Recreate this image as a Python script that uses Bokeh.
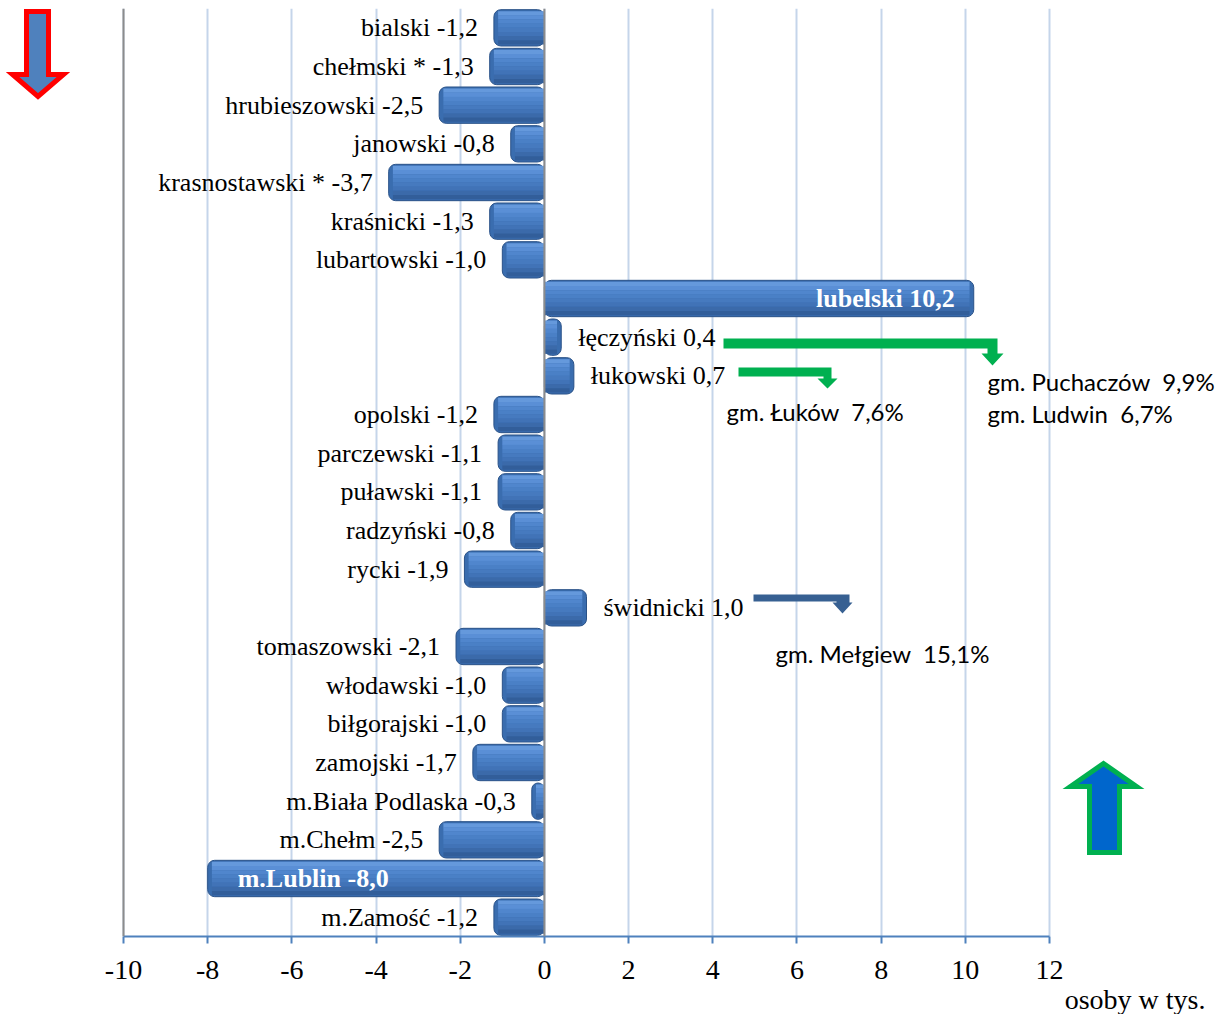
from bokeh.plotting import figure
from bokeh.models import Range1d, FixedTicker, Span, Label, PolyAnnotation, ColumnDataSource, Title
from bokeh.core.properties import value
from bokeh.embed import file_html
from bokeh.resources import INLINE

# ---------------- data ----------------
districts = ["bialski", "chełmski *", "hrubieszowski", "janowski", "krasnostawski *",
             "kraśnicki", "lubartowski", "lubelski", "łęczyński", "łukowski", "opolski",
             "parczewski", "puławski", "radzyński", "rycki", "świdnicki", "tomaszowski",
             "włodawski", "biłgorajski", "zamojski", "m.Biała Podlaska", "m.Chełm",
             "m.Lublin", "m.Zamość"]
change = [-1.2, -1.3, -2.5, -0.8, -3.7, -1.3, -1.0, 10.2, 0.4, 0.7, -1.2, -1.1, -1.1,
          -0.8, -1.9, 1.0, -2.1, -1.0, -1.0, -1.7, -0.3, -2.5, -8.0, -1.2]
x_ticks = [-10, -8, -6, -4, -2, 0, 2, 4, 6, 8, 10, 12]
x_tick_labels = ["-10", "-8", "-6", "-4", "-2", "0", "2", "4", "6", "8", "10", "12"]
axis_unit = "osoby w tys."
note_district = ["łęczyński", "łęczyński", "łukowski", "świdnicki"]
note_text = ["gm. Puchaczów  9,9%", "gm. Ludwin  6,7%", "gm. Łuków  7,6%", "gm. Mełgiew  15,1%"]

# ---------------- layout ----------------
W, H = 1224, 1014
AX_L_PX, AX_R_PX = 123, 1049      # where x_ticks[0] and x_ticks[-1] sit
TOP_PX, BOT_PX = 8, 936           # category area
X_MIN, X_MAX = x_ticks[0], x_ticks[-1]
N = len(districts)
PX = (AX_R_PX - AX_L_PX) / (X_MAX - X_MIN)
PY = (BOT_PX - TOP_PX) / N


def wx(X):  # window pixel -> data x
    return X_MIN + (X - AX_L_PX) / PX


def wy(Y):  # window pixel -> data y
    return (Y - TOP_PX) / PY


ypos = [i + 0.5 for i in range(N)]

p = figure(width=W, height=H, output_backend="svg", toolbar_location=None,
           x_range=Range1d(wx(0), wx(W)), y_range=Range1d(N, 0),
           min_border_left=0, min_border_right=0, min_border_top=TOP_PX,
           min_border_bottom=H - BOT_PX)
p.outline_line_color = None
p.background_fill_color = "white"
p.border_fill_color = "white"

# grid
p.xgrid.ticker = FixedTicker(ticks=x_ticks)
p.xgrid.grid_line_color = "#c5d5ea"
p.xgrid.grid_line_width = 2
p.ygrid.visible = False

# x axis
xa = p.xaxis[0]
xa.ticker = FixedTicker(ticks=x_ticks)
xa.bounds = (X_MIN, X_MAX)
xa.major_label_overrides = {t: s for t, s in zip(x_ticks, x_tick_labels)}
xa.axis_line_color = "#4f81bd"
xa.axis_line_width = 2
xa.major_tick_line_color = "#4f81bd"
xa.major_tick_line_width = 2
xa.major_tick_out = 7
xa.major_tick_in = 0
xa.minor_tick_line_color = None
xa.major_label_text_font = "Liberation Serif"
xa.major_label_text_font_size = "28px"
xa.major_label_text_color = "black"
xa.major_label_standoff = 17

p.yaxis.visible = False

# unit caption under the axis
p.add_layout(Title(text=axis_unit, align="right", offset=19, standoff=0,
                   text_font="Liberation Serif", text_font_size="28px",
                   text_font_style="normal", text_color="black"), "below")

# bars: base with rounded ends, then gradient bands
src = ColumnDataSource(dict(y=ypos, v=change))
p.hbar(y="y", left=0, right="v", height=0.94, source=src,
       fill_color="#3a6daf", line_color="#2a5288", line_width=1, border_radius=7)
band_cols = ["#6599dc", "#5a8fd6", "#5086cd", "#4a80c6", "#467abf", "#4173b7", "#3b6aaa", "#325e9a"]
nb = len(band_cols)
bh = 0.86 / nb
inset = 0.1
for k, c in enumerate(band_cols):
    yy = [y - 0.43 + bh * (k + 0.5) for y in ypos]
    rr = [v - inset if v > 0 else v + inset for v in change]
    p.hbar(y=yy, left=0, right=rr, height=bh * 1.02, fill_color=c, line_color=None)

# gray lines at the left edge and at zero
p.add_layout(Span(location=X_MIN, dimension="height", line_color="#8c8c8c", line_width=2))
p.add_layout(Span(location=0, dimension="height", line_color="#8c8c8c", line_width=2))


def fmt(v):
    return ("%.1f" % v).replace(".", ",")


out_lab = dict(x=[], y=[], t=[], a=[], o=[])
in_lab = dict(x=[], y=[], t=[], a=[], o=[])
for name, v, y in zip(districts, change, ypos):
    txt = f"{name} {fmt(v)}"
    if abs(v) > 5:
        d = in_lab
        d["a"].append("right" if v > 0 else "left")
        d["o"].append(-19 if v > 0 else 30)
    else:
        d = out_lab
        d["a"].append("left" if v > 0 else "right")
        d["o"].append(17 if v > 0 else -16)
    d["x"].append(v)
    d["y"].append(y)
    d["t"].append(txt)

p.text(x="x", y="y", text="t", text_align="a", x_offset="o", source=ColumnDataSource(out_lab),
       text_baseline="middle", text_font=value("Liberation Serif"), text_font_size="26px",
       text_color="black")
p.text(x="x", y="y", text="t", text_align="a", x_offset="o", source=ColumnDataSource(in_lab),
       text_baseline="middle", text_font=value("Liberation Serif"), text_font_size="26px",
       text_font_style="bold", text_color="white")

# small bent arrows (outlines in window px)
arrow_shapes = [
    ([723, 997, 997, 1003, 992, 981, 987, 987, 723], [338, 338, 353, 353, 365, 353, 353, 348, 348], "#00b050"),
    ([738, 831, 831, 837, 827, 817, 823, 823, 738], [367, 367, 378, 378, 388, 378, 378, 376, 376], "#00b050"),
    ([753, 849, 849, 852, 842, 832, 836, 836, 753], [594, 594, 602, 602, 613, 602, 602, 601, 601], "#376092"),
]
for xs, ys, c in arrow_shapes:
    p.add_layout(PolyAnnotation(xs=[wx(x) for x in xs], ys=[wy(y) for y in ys],
                                fill_color=c, fill_alpha=1, line_color=None))

# big arrows
red_x = [26, 48, 48, 63, 37.5, 12, 26]
red_y = [11, 11, 74, 74, 96, 74, 74]
p.add_layout(PolyAnnotation(xs=[wx(x) for x in red_x], ys=[wy(y) for y in red_y],
                            fill_color="#4f81bd", fill_alpha=1, line_color="#ff0000",
                            line_alpha=1, line_width=5, line_join="miter"))
grn_x = [1103, 1136, 1119, 1119, 1089, 1089, 1070]
grn_y = [763, 786, 786, 852, 852, 786, 786]
p.add_layout(PolyAnnotation(xs=[wx(x) for x in grn_x], ys=[wy(y) for y in grn_y],
                            fill_color="#0066cc", fill_alpha=1, line_color="#00b050",
                            line_alpha=1, line_width=5, line_join="miter"))

# notes
note_pos = [(987, 381), (987, 413), (726, 411), (775, 653)]
for d, t, (nx, ny) in zip(note_district, note_text, note_pos):
    p.add_layout(Label(x=wx(nx), y=wy(ny), text=t.replace("  ", " \u00a0"), text_font="Lato",
                       text_font_size="24px", text_color="black", text_baseline="middle",
                       text_align="left"))

open("out.html", "w").write(file_html(p, INLINE))
